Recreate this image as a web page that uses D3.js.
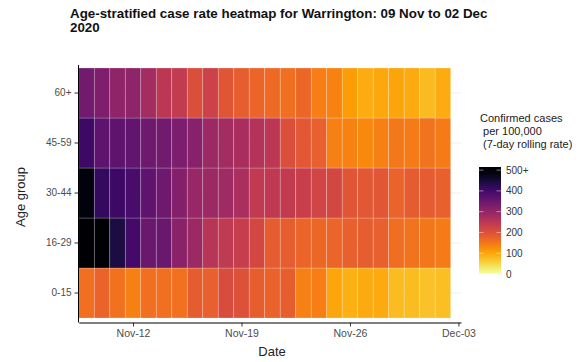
<!DOCTYPE html>
<html><head><meta charset="utf-8">
<script src="https://cdn.jsdelivr.net/npm/d3@7"></script>
<style>body{margin:0;background:#fff}svg{display:block;font-family:"Liberation Sans",Arial,sans-serif}</style>
</head><body><svg id="c" width="585" height="362"></svg>
<script>
const dates = ["2020-11-09","2020-11-10","2020-11-11","2020-11-12","2020-11-13","2020-11-14","2020-11-15","2020-11-16","2020-11-17","2020-11-18","2020-11-19","2020-11-20","2020-11-21","2020-11-22","2020-11-23","2020-11-24","2020-11-25","2020-11-26","2020-11-27","2020-11-28","2020-11-29","2020-11-30","2020-12-01","2020-12-02"];
const ageGroups = ["0-15","16-29","30-44","45-59","60+"];
const rate0_15  = [160,175,158,140,160,160,158,185,178,208,200,180,176,180,140,142,98,88,94,94,78,78,72,76];
const rate16_29 = [540,500,445,395,350,350,312,290,255,243,236,215,185,182,172,168,172,178,182,178,162,155,152,145];
const rate30_44 = [490,415,405,390,365,345,320,295,290,285,270,243,245,242,232,220,215,195,190,192,175,185,185,178];
const rate45_59 = [405,365,365,360,345,340,330,315,290,280,272,258,250,205,190,178,140,138,130,140,150,145,155,145];
const rate60p   = [340,325,305,305,280,250,240,205,225,195,180,172,165,160,168,142,138,108,92,96,100,94,80,92];
const legendTicks = [0,100,200,300,400,500];
const legendLabels = ["0","100","200","300","400","500+"];

const seriesByAge = {"0-15":rate0_15,"16-29":rate16_29,"30-44":rate30_44,"45-59":rate45_59,"60+":rate60p};
const parse = d3.timeParse("%Y-%m-%d");
const cells = [];
ageGroups.forEach(a => seriesByAge[a].forEach((v,i) => cells.push({age:a, date:parse(dates[i]), v})));

const svg = d3.select("#c");
const color = v => d3.interpolateInferno(1 - Math.max(0, Math.min(500, v)) / 500);

const d0 = d3.timeHour.offset(parse(dates[0]), -12);
const dEnd = d3.timeHour.offset(parse("2020-12-03"), 4.6);
const x = d3.scaleTime().domain([d0, dEnd]).range([78.8, 461]);
const y = d3.scaleBand().domain(ageGroups).range([318, 68]).padding(0);
const dayW = x(d3.timeDay.offset(d0,1)) - x(d0);

// gridlines
svg.append("g").selectAll("line").data(ageGroups).join("line")
  .attr("x1",78.8).attr("x2",461)
  .attr("y1",d=>y(d)+y.bandwidth()/2).attr("y2",d=>y(d)+y.bandwidth()/2)
  .attr("stroke","#ebebeb").attr("stroke-width",0.8);

// cells
svg.append("g").selectAll("rect").data(cells).join("rect")
  .attr("x", d => x(d.date) - dayW/2)
  .attr("y", d => y(d.age))
  .attr("width", dayW).attr("height", y.bandwidth())
  .attr("fill", d => color(d.v))
  .attr("stroke","rgba(255,255,255,0.3)").attr("stroke-width",0.7);

// axes
const xAxis = d3.axisBottom(x)
  .tickValues(["2020-11-12","2020-11-19","2020-11-26","2020-12-03"].map(parse))
  .tickFormat(d3.timeFormat("%b-%d")).tickSize(4).tickSizeOuter(0).tickPadding(3);
const gx = svg.append("g").attr("transform","translate(0,322.5)").call(xAxis);
gx.select(".domain").attr("stroke","#000").attr("stroke-width",1);
gx.selectAll(".tick line").attr("stroke","#333");
gx.selectAll("text").attr("fill","#4d4d4d").style("font-size","10.5px").style("font-family","Liberation Sans, Arial, sans-serif");

const yAxis = d3.axisLeft(y).tickSize(4).tickSizeOuter(0).tickPadding(3);
const gy = svg.append("g").attr("transform","translate(78.5,0)").call(yAxis);
gy.select(".domain").attr("d","M0,65V322.5").attr("stroke","#000").attr("stroke-width",1);
gy.selectAll(".tick line").attr("stroke","#333");
gy.selectAll("text").attr("fill","#4d4d4d").style("font-size","10px").style("font-family","Liberation Sans, Arial, sans-serif");

// axis titles
svg.append("text").attr("x",272).attr("y",356).attr("text-anchor","middle")
  .style("font-size","13px").attr("fill","#222").text("Date");
svg.append("text").attr("transform","translate(25,197) rotate(-90)").attr("text-anchor","middle")
  .style("font-size","13px").attr("fill","#222").text("Age group");

// title
const t1 = svg.append("text").attr("x",70).attr("y",18).style("font-weight","bold").style("font-size","13px")
  .attr("fill","#111").text("Age-stratified case rate heatmap for Warrington: 09 Nov to 02 Dec");
const w = t1.node().getComputedTextLength();
const fs = 13 * 418 / w;
t1.style("font-size", fs + "px");
svg.append("text").attr("x",70).attr("y",32).style("font-weight","bold").style("font-size",fs+"px")
  .attr("fill","#111").text("2020");

// legend
const lt = ["Confirmed cases"," per 100,000"," (7-day rolling rate)"];
svg.append("g").selectAll("text").data(lt).join("text")
  .attr("x",480).attr("y",(d,i)=>121.5+i*13).attr("xml:space","preserve")
  .style("white-space","pre").style("font-size","11px").attr("fill","#222").text(d=>d);

const ly = d3.scaleLinear().domain([0,515]).range([274,167]);
const grad = svg.append("defs").append("linearGradient").attr("id","lg")
  .attr("x1",0).attr("x2",0).attr("y1",1).attr("y2",0);
d3.range(0,21).forEach(i => {
  const v = 515*i/20;
  grad.append("stop").attr("offset",(i/20)).attr("stop-color",color(v));
});
svg.append("rect").attr("x",479).attr("y",ly(515)).attr("width",22).attr("height",ly(0)-ly(515)).attr("fill","url(#lg)");
const lg = svg.append("g");
legendTicks.forEach((t,i) => {
  lg.append("line").attr("x1",479).attr("x2",483.5).attr("y1",ly(t)).attr("y2",ly(t)).attr("stroke","rgba(255,255,255,0.6)").attr("stroke-width",0.8);
  lg.append("line").attr("x1",496.5).attr("x2",501).attr("y1",ly(t)).attr("y2",ly(t)).attr("stroke","rgba(255,255,255,0.6)").attr("stroke-width",0.8);
  lg.append("text").attr("x",506).attr("y",ly(t)).attr("dy","0.35em").style("font-size","10px").attr("fill","#333").text(legendLabels[i]);
});
</script></body></html>
